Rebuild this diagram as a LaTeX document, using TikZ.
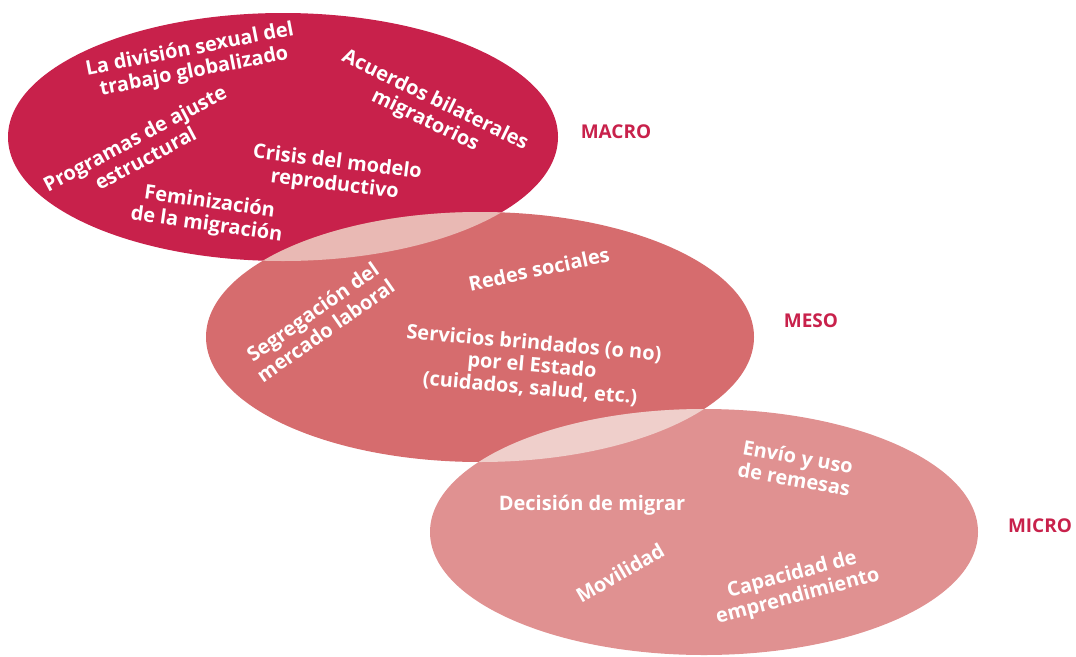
\documentclass[tikz,border=0pt]{standalone}
\usepackage{fontspec}
\setmainfont{Open Sans}
\definecolor{macroc}{HTML}{C8214B}
\definecolor{mesoc}{HTML}{D66C6E}
\definecolor{microc}{HTML}{E09191}
\definecolor{lapa}{HTML}{E9B9B4}
\definecolor{lapb}{HTML}{EFCFCB}
\begin{document}
\begin{tikzpicture}[x=1pt,y=-1pt,
  itemtxt/.style={text=white,font=\fontsize{20}{22.5}\selectfont\bfseries,align=center,inner sep=0pt},
  leveltxt/.style={text=macroc,font=\fontsize{19}{21}\selectfont\bfseries,inner sep=0pt}]
\useasboundingbox (0,0) rectangle (1076,656);
\def\macroE{(283,137) ellipse [x radius=275,y radius=124]}
\def\mesoE{(480,337) ellipse [x radius=274,y radius=125]}
\def\microE{(704,532) ellipse [x radius=274,y radius=123]}
\fill[macroc] \macroE;
\fill[mesoc] \mesoE;
\fill[microc] \microE;
\begin{scope}
  \clip \macroE;
  \fill[lapa] \mesoE;
\end{scope}
\begin{scope}
  \clip \mesoE;
  \fill[lapb] \microE;
\end{scope}
% macro
\node[itemtxt,rotate=11] (divis) at (192,61) {La división sexual del\\trabajo globalizado};
\node[itemtxt,rotate=-26] (acuer) at (430,111) {Acuerdos bilaterales\\migratorios};
\node[itemtxt,rotate=28] (progr) at (140,148) {Programas de ajuste\\estructural};
\node[itemtxt,rotate=-7] (crisis) at (336,174) {Crisis del modelo\\reproductivo};
\node[itemtxt,rotate=-8] (femin) at (208,214) {Feminización\\de la migración};
% meso
\node[itemtxt,rotate=35] (segre) at (319,321) {Segregación del\\mercado laboral};
\node[itemtxt,rotate=12] (redes) at (539,269) {Redes sociales};
\node[itemtxt,rotate=-5] (servi) at (532,366) {Servicios brindados (o no)\\por el Estado\\(cuidados, salud, etc.)};
% micro
\node[itemtxt] (decis) at (592,505) {Decisión de migrar};
\node[itemtxt,rotate=-10] (envio) at (796,468) {Envío y uso\\de remesas};
\node[itemtxt,rotate=30] (movil) at (620,573) {Movilidad};
\node[itemtxt,rotate=15] (capac) at (795,586) {Capacidad de\\emprendimiento};
% levels
\node[leveltxt] (macro) at (616,132) {MACRO};
\node[leveltxt] (meso) at (811,321) {MESO};
\node[leveltxt] (micro) at (1040,526) {MICRO};
\end{tikzpicture}
\end{document}
